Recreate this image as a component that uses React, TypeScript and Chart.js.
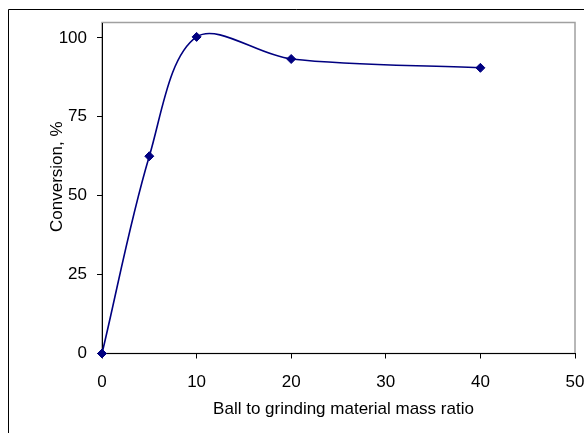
import React, { useEffect, useRef } from "react";
import { Chart, registerables } from "chart.js";

Chart.register(...registerables);

// ---- data ----
const ratios = [0, 5, 10, 20, 40];
const conversion = [0, 62.5, 100.3, 93.3, 90.5];
const xTicks = [0, 10, 20, 30, 40, 50];
const yTicks = [0, 25, 50, 75, 100];
const xTitle = "Ball to grinding material mass ratio";
const yTitle = "Conversion, %";

const FONT = "'Liberation Sans', Arial, sans-serif";
const NAVY = "#000080";

export default function App() {
  const ref = useRef<HTMLCanvasElement>(null);

  useEffect(() => {
    const canvas = ref.current;
    if (!canvas) return;

    const decor = {
      id: "decor",
      beforeDraw(chart: any) {
        const { ctx, chartArea } = chart;
        ctx.save();
        ctx.fillStyle = "#fff";
        ctx.fillRect(0, 0, chart.width, chart.height);
        ctx.strokeStyle = "#a0a0a0";
        ctx.lineWidth = 1.5;
        ctx.strokeRect(
          chartArea.left,
          chartArea.top - 0.5,
          chartArea.right - chartArea.left,
          chartArea.bottom - chartArea.top + 0.5
        );
        ctx.restore();
      },
      afterDraw(chart: any) {
        const { ctx } = chart;
        ctx.save();
        // outer frame (clipped on right and bottom)
        ctx.strokeStyle = "#000";
        ctx.lineWidth = 1;
        ctx.beginPath();
        ctx.moveTo(8.5, chart.height + 2);
        ctx.lineTo(8.5, 9.5);
        ctx.lineTo(chart.width + 2, 9.5);
        ctx.stroke();
        // axis titles
        ctx.fillStyle = "#000";
        ctx.font = `17px ${FONT}`;
        ctx.textAlign = "center";
        ctx.textBaseline = "alphabetic";
        ctx.fillText(xTitle, 343.5, 414.3);
        ctx.translate(61.7, 176.7);
        ctx.rotate(-Math.PI / 2);
        ctx.fillText(yTitle, 0, 0);
        ctx.restore();
      },
    };

    const chart = new Chart(canvas, {
      type: "scatter",
      data: {
        datasets: [
          {
            data: ratios.map((x, i) => ({ x, y: conversion[i] })),
            showLine: true,
            tension: 0.34,
            borderColor: NAVY,
            backgroundColor: NAVY,
            borderWidth: 1.6,
            pointStyle: "rectRot",
            pointRadius: 4.5,
            pointBorderWidth: 1,
            pointBackgroundColor: NAVY,
            pointBorderColor: NAVY,
            clip: false as any,
          },
        ],
      },
      options: {
        animation: false,
        responsive: false,
        devicePixelRatio: 1,
        layout: { padding: { top: 23, right: 9, left: 0, bottom: 0 } },
        plugins: {
          legend: { display: false },
          tooltip: { enabled: false },
        },
        scales: {
          x: {
            type: "linear",
            min: 0,
            max: 50,
            afterBuildTicks: (s: any) => {
              s.ticks = xTicks.map((v) => ({ value: v }));
            },
            afterFit: (s: any) => {
              s.height = 79.5;
              s.paddingLeft = 0;
              s.paddingRight = 0;
            },
            ticks: {
              font: { family: FONT, size: 17 },
              color: "#000",
              padding: 14,
              maxRotation: 0,
              autoSkip: false,
            },
            grid: {
              drawOnChartArea: false,
              drawTicks: true,
              tickLength: 5,
              tickColor: "#000",
              tickWidth: 1,
              color: "#000",
            },
            border: { display: true, color: "#000", width: 1 },
          },
          y: {
            type: "linear",
            min: 0,
            max: 104.7,
            afterBuildTicks: (s: any) => {
              s.ticks = yTicks.map((v) => ({ value: v }));
            },
            afterFit: (s: any) => {
              s.width = 102;
              s.paddingTop = 0;
              s.paddingBottom = 0;
            },
            ticks: {
              font: { family: FONT, size: 17 },
              color: "#000",
              padding: 10,
              autoSkip: false,
            },
            grid: {
              drawOnChartArea: false,
              drawTicks: true,
              tickLength: 5,
              tickColor: "#000",
              tickWidth: 1,
              color: "#000",
            },
            border: { display: true, color: "#000", width: 1 },
          },
        },
      },
      plugins: [decor],
    });

    return () => chart.destroy();
  }, []);

  return (
    <div
      style={{
        position: "fixed",
        left: 0,
        top: 0,
        width: 584,
        height: 433,
        background: "#fff",
      }}
    >
      <canvas
        ref={ref}
        width={584}
        height={433}
        style={{ display: "block", width: 584, height: 433 }}
      />
    </div>
  );
}
